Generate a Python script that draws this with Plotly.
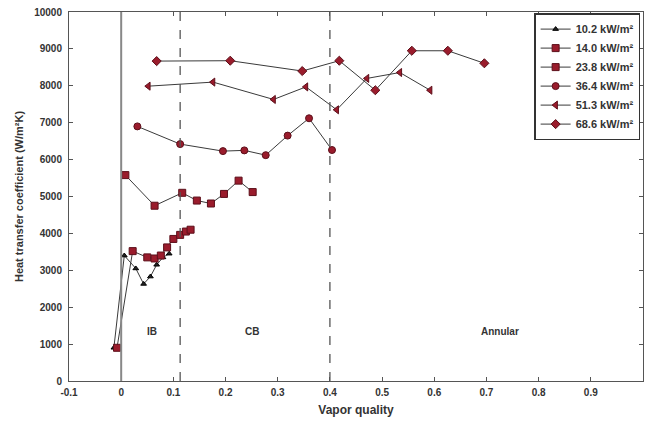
import plotly.graph_objects as go

# Heat flux series (kW/m^2): vapor quality vs heat transfer coefficient
x_10_2 = [-0.014, 0.006, 0.028, 0.043, 0.056, 0.068, 0.080, 0.092]
h_10_2 = [900, 3400, 3050, 2630, 2830, 3150, 3350, 3450]

x_14_0 = [-0.008, 0.022, 0.050, 0.064, 0.076, 0.088, 0.100, 0.113, 0.124, 0.133]
h_14_0 = [900, 3520, 3350, 3320, 3400, 3620, 3850, 3960, 4050, 4100]

x_23_8 = [0.008, 0.064, 0.117, 0.145, 0.172, 0.197, 0.225, 0.252]
h_23_8 = [5580, 4750, 5100, 4890, 4810, 5070, 5430, 5120]

x_36_4 = [0.031, 0.113, 0.195, 0.236, 0.277, 0.319, 0.360, 0.404]
h_36_4 = [6900, 6420, 6230, 6250, 6120, 6650, 7120, 6260]

x_51_3 = [0.052, 0.176, 0.292, 0.354, 0.413, 0.471, 0.534, 0.592]
h_51_3 = [7990, 8100, 7630, 7970, 7350, 8200, 8360, 7880]

x_68_6 = [0.068, 0.209, 0.347, 0.418, 0.487, 0.557, 0.626, 0.696]
h_68_6 = [8670, 8680, 8400, 8680, 7880, 8950, 8950, 8610]

series_names = ["10.2 kW/m²", "14.0 kW/m²", "23.8 kW/m²",
                "36.4 kW/m²", "51.3 kW/m²", "68.6 kW/m²"]
series_x = [x_10_2, x_14_0, x_23_8, x_36_4, x_51_3, x_68_6]
series_h = [h_10_2, h_14_0, h_23_8, h_36_4, h_51_3, h_68_6]
symbols = ["triangle-up", "square", "square", "circle", "triangle-left", "diamond"]

# Flow regime boundaries and labels
regime_bounds = [0.113, 0.4]
regime_labels = ["IB", "CB", "Annular"]
regime_label_x = [0.06, 0.25, 0.725]
regime_label_y = 1350

x_ticks = [-0.1, 0, 0.1, 0.2, 0.3, 0.4, 0.5, 0.6, 0.7, 0.8, 0.9]
x_tick_text = ["-0.1", "0", "0.1", "0.2", "0.3", "0.4", "0.5", "0.6", "0.7", "0.8", "0.9"]
y_ticks = [0, 1000, 2000, 3000, 4000, 5000, 6000, 7000, 8000, 9000, 10000]
y_tick_text = ["0", "1000", "2000", "3000", "4000", "5000", "6000", "7000", "8000", "9000", "10000"]

FONT = "Liberation Sans, Arial, sans-serif"

fig = go.Figure()

for i, (name, xs, hs, sym) in enumerate(zip(series_names, series_x, series_h, symbols)):
    if i == 0:
        mcolor, mline, msize = "#222222", "#000000", 5
    else:
        mcolor, mline, msize = "#9a1c2c", "#5c0f1a", 7
    fig.add_trace(go.Scatter(
        x=xs, y=hs, mode="lines+markers", name="<b>%s</b>" % name,
        line=dict(color="#3a3a3a", width=1),
        marker=dict(symbol=sym, size=msize, color=mcolor, line=dict(color=mline, width=1)),
    ))

shapes = [dict(type="line", x0=0, x1=0, y0=0, y1=10000, xref="x", yref="y",
               line=dict(color="#888888", width=2))]
for b in regime_bounds:
    shapes.append(dict(type="line", x0=b, x1=b, y0=0, y1=10000, xref="x", yref="y",
                       line=dict(color="#555555", width=1.3, dash="dash")))

annotations = [dict(x=lx, y=regime_label_y, text="<b>%s</b>" % t, showarrow=False,
                    font=dict(size=10, color="#333333", family=FONT))
               for lx, t in zip(regime_label_x, regime_labels)]

axis_common = dict(showgrid=False, zeroline=False, showline=True, linecolor="#555555",
                   linewidth=1, mirror="ticks", ticks="inside", ticklen=4,
                   tickcolor="#555555",
                   tickfont=dict(size=10, color="#333333", family=FONT))

fig.update_layout(
    width=649, height=423,
    margin=dict(l=69, r=6, t=12, b=42),
    paper_bgcolor="white", plot_bgcolor="white",
    font=dict(family=FONT, color="#333333"),
    shapes=shapes, annotations=annotations,
    xaxis=dict(range=[-0.1, 1.0], tickvals=x_ticks,
               ticktext=["<b>%s</b>" % t for t in x_tick_text],
               ticklabelstandoff=2,
               title=dict(text="<b>Vapor quality</b>", font=dict(size=12), standoff=8),
               **axis_common),
    yaxis=dict(range=[0, 10000], tickvals=y_ticks,
               ticktext=["<b>%s</b>" % t for t in y_tick_text],
               ticklabelstandoff=4,
               title=dict(text="<b>Heat transfer coefficient (W/m²K)</b>",
                          font=dict(size=11), standoff=8),
               **axis_common),
    legend=dict(x=0.995, y=0.997, xanchor="right", yanchor="top",
                bgcolor="white", bordercolor="#333333", borderwidth=1.5,
                font=dict(size=11, color="#333333", family=FONT),
                tracegroupgap=0, itemwidth=30),
    showlegend=True,
)

fig.write_html("out.html")
